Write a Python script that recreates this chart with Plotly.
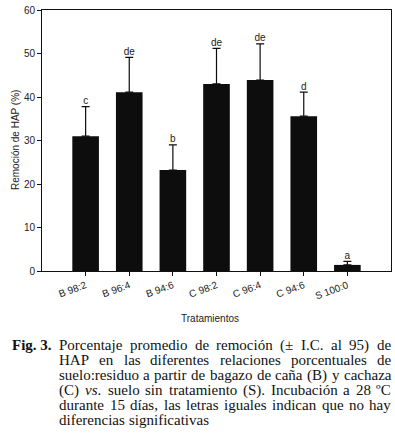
import re
import plotly.graph_objects as go

categories = ["B 98:2", "B 96:4", "B 94:6", "C 98:2", "C 96:4", "C 94:6", "S 100:0"]
means = [31.0, 41.1, 23.2, 43.0, 43.9, 35.6, 1.4]
ci_upper = [6.8, 8.0, 5.8, 8.2, 8.3, 5.5, 0.8]
letters = ["c", "de", "b", "de", "de", "d", "a"]
y_ticks = [0, 10, 20, 30, 40, 50, 60]

caption_label = "Fig. 3."
caption_lines = [
    "Porcentaje promedio de remoción (± I.C. al 95) de",
    "HAP en las diferentes relaciones porcentuales de",
    "suelo:residuo a partir de bagazo de caña (B) y cachaza",
    "(C) <i>vs</i>. suelo sin tratamiento (S). Incubación a 28 ºC",
    "durante 15 días, las letras iguales indican que no hay",
    "diferencias significativas",
]

W, H = 395, 438
PL, PR, PT, PB = 42, 391, 10, 271          # plot area in page pixels
L, T, R, B = PL, PT, W - PR, H - PB
pw, ph = W - L - R, H - T - B

def px_x(px):
    return (px - L) / pw

def px_y(py):
    return (H - B - py) / ph

# Times / Liberation Serif advance widths (1/1000 em)
TW = dict(A=722, B=667, C=667, H=722, I=333, P=556, S=556)
TW.update({c: w for c, w in zip("abcdefghijklmnopqrstuvwxyz",
          [444, 500, 444, 500, 444, 333, 500, 500, 278, 278, 500, 278, 778,
           500, 500, 500, 500, 333, 389, 278, 500, 500, 722, 500, 500, 444])})
TW.update({d: 500 for d in "0123456789"})
TW.update({"(": 333, ")": 333, ".": 250, ",": 250, ":": 278, "±": 564,
           "º": 310, " ": 250, "ó": 500, "í": 278, "ñ": 500})

def word_w(word, fs):
    plain = re.sub(r"<[^>]+>", "", word)
    return sum(TW.get(ch, 500) for ch in plain) * fs / 1000.0

FS = 15
X0, X1 = 58, 390
Y0, DY = 345, 15

xs = list(range(len(categories)))
tops = [m + c for m, c in zip(means, ci_upper)]

fig = go.Figure()
fig.add_trace(go.Bar(
    x=xs, y=means, width=0.61,
    marker=dict(color="#0d0d0d", line=dict(width=0)),
    error_y=dict(type="data", symmetric=False, array=ci_upper,
                 arrayminus=[0] * len(means), color="#0d0d0d",
                 thickness=1.2, width=4),
    showlegend=False,
))
fig.add_trace(go.Scatter(
    x=xs, y=tops, mode="text", text=letters, textposition="top center",
    textfont=dict(family="Liberation Sans, Arial, sans-serif", size=10, color="#222"),
    showlegend=False, cliponaxis=False,
))

sans = dict(family="Liberation Sans, Arial, sans-serif", size=10, color="#222")
serif = dict(family="Liberation Serif, Times New Roman, serif", size=FS, color="#111")

annotations = [
    dict(text="Remoción de HAP (%)", textangle=-90, x=px_x(15), y=px_y(140),
         xref="paper", yref="paper", showarrow=False, xanchor="center",
         yanchor="middle", font=sans),
    dict(text="Tratamientos", x=px_x(210), y=px_y(318),
         xref="paper", yref="paper", showarrow=False, xanchor="center",
         yanchor="middle", font=sans),
    dict(text="<b>" + caption_label + "</b>", x=px_x(11), y=px_y(Y0),
         xref="paper", yref="paper", showarrow=False, xanchor="left",
         yanchor="middle", font=serif, borderpad=0),
]

for i, line in enumerate(caption_lines):
    words = line.split(" ")
    yy = px_y(Y0 + i * DY)
    last = i == len(caption_lines) - 1
    widths = [word_w(w, FS) for w in words]
    if last or len(words) == 1:
        gap = TW[" "] * FS / 1000.0
    else:
        gap = (X1 - X0 - sum(widths)) / (len(words) - 1)
    x = X0
    for w, wd in zip(words, widths):
        annotations.append(dict(
            text=w, x=px_x(x), y=yy, xref="paper", yref="paper",
            showarrow=False, xanchor="left", yanchor="middle",
            font=serif, borderpad=0))
        x += wd + gap

fig.update_layout(
    width=W, height=H,
    margin=dict(l=L, r=R, t=T, b=B, pad=0),
    plot_bgcolor="white", paper_bgcolor="white",
    annotations=annotations,
    xaxis=dict(
        range=[-1, 7], tickmode="array", tickvals=xs, ticktext=categories,
        tickangle=-20, ticks="outside", ticklen=4, tickwidth=1, tickcolor="#111",
        showline=True, linecolor="#111", linewidth=1, mirror=True,
        showgrid=False, zeroline=False, tickfont=sans,
    ),
    yaxis=dict(
        range=[0, 60], tickmode="array", tickvals=y_ticks,
        ticks="outside", ticklen=4, tickwidth=1, tickcolor="#111",
        showline=True, linecolor="#111", linewidth=1, mirror=True,
        showgrid=False, zeroline=False, tickfont=sans,
    ),
)

fig.write_html("out.html", config={"displayModeBar": False},
               post_script="document.body.style.margin='0px';")
